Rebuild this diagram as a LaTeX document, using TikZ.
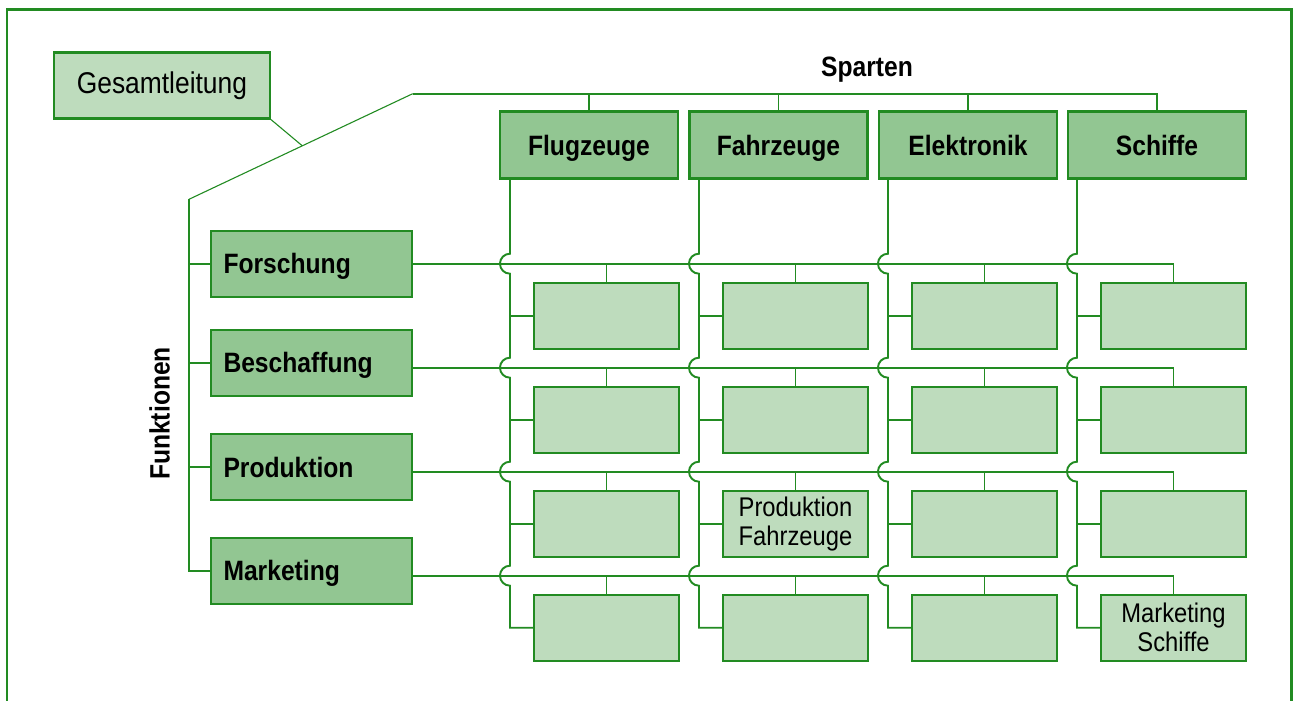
\documentclass[tikz,border=0pt]{standalone}
\usepackage{fontspec}
\setmainfont{Liberation Sans}[FakeStretch=0.88]
\usetikzlibrary{calc}
\definecolor{org green}{RGB}{34,139,34}
\definecolor{unit dark}{RGB}{146,198,146}
\definecolor{unit light}{RGB}{190,220,189}
\tikzset{
  orgframe/.style={draw=org green, line width=2.8pt},
  link/.style={draw=org green, line width=1.9pt},
  slant/.style={draw=org green, line width=1.1pt},
  unitbox/.style={draw=org green, line width=2.1pt, inner sep=0pt, minimum height=66pt},
  boldtext/.style={font=\bfseries\fontsize{28}{32}\selectfont, text height=20pt, text depth=0pt},
  sparte/.style={unitbox, boldtext, fill=unit dark, minimum width=178pt, minimum height=67pt},
  funktion/.style={unitbox, boldtext, fill=unit dark, text width=176pt, inner xsep=12.5pt, align=left},
  stelle/.style={unitbox, fill=unit light, minimum width=145pt, align=center, font=\fontsize{27}{29}\selectfont},
  heading/.style={boldtext, inner sep=0pt}
}

\begin{document}
\begin{tikzpicture}[x=1pt, y=-1pt]
  \useasboundingbox (0,0) rectangle (1293,701);
  \draw[orgframe] (7,701) -- (7,9.7) -- (1291.7,9.7) -- (1291.7,701);

  \node[unitbox, fill=unit light, minimum width=216pt, font=\fontsize{30}{34}\selectfont] (gl) at (161.9,85.5) {Gesamtleitung};
  \node[heading] (sparten) at (867,67) {Sparten};
  \node[heading, rotate=90] (funktionen) at (159.5,413.5) {Funktionen};

  \node[sparte] (sp1) at (589,145) {Flugzeuge};
  \node[sparte] (sp2) at (778.5,145) {Fahrzeuge};
  \node[sparte] (sp3) at (968,145) {Elektronik};
  \node[sparte] (sp4) at (1157,145) {Schiffe};

  \node[funktion] (fu1) at (311.5,263.7) {Forschung};
  \node[funktion] (fu2) at (311.5,362.7) {Beschaffung};
  \node[funktion] (fu3) at (311.5,467) {Produktion};
  \node[funktion] (fu4) at (311.5,570.7) {Marketing};

  \foreach \r/\ry in {1/263.7, 2/367.7, 3/471.7, 4/575.7} {
    \coordinate (row\r) at (0,\ry);
    \foreach \c/\cx in {1/606.5, 2/795.5, 3/984.5, 4/1173.5}
      \node[stelle] (c\r\c) at (\cx,\ry+52) {};
  }
  \node[align=center, font=\fontsize{27}{29}\selectfont] at (c32) {Produktion\\Fahrzeuge};
  \node[align=center, font=\fontsize{27}{29}\selectfont] at (c44) {Marketing\\Schiffe};

  \coordinate (knee left) at (189,199.3);
  \coordinate (knee top) at (412.7,93.7);
  \draw[slant] (gl.south east) -- ($(knee left)!0.5065!(knee top)$);
  \draw[slant] (knee left) -- (knee top);

  % Sparten
  \draw[link] (knee top) -- (knee top -| sp4.north) -- (sp4.north);
  \foreach \c in {1,2,3}
    \draw[link] (sp\c.north) -- (sp\c.north |- knee top);

  % Funktionen
  \draw[link] (knee left) -- (knee left |- fu4.west) -- (fu4.west);
  \foreach \r in {1,2,3}
    \draw[link] (fu\r.west) -- (fu\r.west -| knee left);

  \foreach \r in {1,...,4} {
    \draw[link] (fu\r.east |- row\r) -- (row\r -| c\r4.north) -- (c\r4.north);
    \foreach \c in {1,2,3}
      \draw[link] (c\r\c.north) -- (c\r\c.north |- row\r);
  }

  % columns jump over the rows
  \foreach \c in {1,...,4} {
    \coordinate (col\c) at ($(c1\c.west)+(-23,0)$);
    \draw[link] (col\c |- sp\c.south)
      foreach \r in {1,...,4} { -- ($(col\c |- row\r)+(0,-10)$) arc[start angle=90, end angle=270, radius=10pt] }
      -- (col\c |- c4\c.west) -- (c4\c.west);
    \foreach \r in {1,2,3}
      \draw[link] (c\r\c.west) -- (c\r\c.west -| col\c);
  }
\end{tikzpicture}
\end{document}
